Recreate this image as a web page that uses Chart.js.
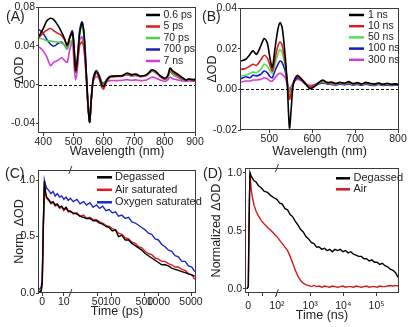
<!DOCTYPE html>
<html>
<head>
<meta charset="utf-8">
<script src="https://cdn.jsdelivr.net/npm/chart.js@4.4.1/dist/chart.umd.min.js"></script>
<style>
html, body { margin: 0; padding: 0; background: #fff; }
body { width: 417px; height: 327px; position: relative; overflow: hidden; font-family: "Liberation Sans", Arial, sans-serif; color: #222; }
canvas { position: absolute; }
.tag { position: absolute; font-size: 14px; line-height: 14px; }
</style>
</head>
<body>
<canvas id="chartA" width="205" height="162" style="left:0;top:0"></canvas>
<canvas id="chartB" width="212" height="162" style="left:205px;top:0"></canvas>
<canvas id="chartC" width="205" height="167" style="left:0;top:160px"></canvas>
<canvas id="chartD" width="212" height="167" style="left:205px;top:160px"></canvas>
<div class="tag" style="left:6px;top:9px">(A)</div>
<div class="tag" style="left:202px;top:9px">(B)</div>
<div class="tag" style="left:5px;top:166px">(C)</div>
<div class="tag" style="left:203px;top:166px">(D)</div>
<script>
// Panel A: transient spectra, ps-ns window
const wlA = [386, 400, 412, 424, 435, 448, 460, 470, 479, 487, 496, 502, 507, 513, 520, 528, 535, 542, 548, 553,
    558, 565, 575, 585, 592, 599, 608, 620, 640, 660, 676, 690, 705, 720, 740, 758, 770, 785, 800, 810,
    818, 828, 845, 860, 870, 880, 890, 900];
const odA_06ps = [0.050, 0.058, 0.066, 0.0686, 0.067, 0.0616, 0.0546, 0.0477, 0.041, 0.048, 0.054, 0.035, 0.0146, 0.0285, 0.053, 0.064, 0.049, 0.011, -0.0237, -0.039,
    -0.0167, 0.006, 0.0139, 0.0084, 0.0007, -0.002, 0.0042, 0.0084, 0.009, 0.0094, 0.012, 0.0104, 0.011, 0.009, 0.0104, 0.0153, 0.0139, 0.0094, 0.0066, 0.0094,
    0.017, 0.0139, 0.0104, 0.007, 0.0049, 0.0059, 0.0052, 0.0052];
const odA_5ps = [0.0487, 0.0536, 0.0564, 0.058, 0.0557, 0.053, 0.051, 0.0466, 0.0397, 0.0487, 0.053, 0.032, 0.0129, 0.0233, 0.0407, 0.044, 0.0355, 0.0077, -0.0237, -0.0376,
    -0.0167, 0.0049, 0.0118, 0.0059, -0.002, -0.0045, 0.0024, 0.0077, 0.0084, 0.0087, 0.011, 0.0097, 0.0104, 0.0084, 0.0097, 0.0146, 0.0132, 0.0087, 0.0059, 0.0084,
    0.0153, 0.0125, 0.009, 0.0063, 0.0049, 0.0056, 0.0049, 0.0049];
const odA_70ps = [0.048, 0.047, 0.0455, 0.045, 0.0445, 0.044, 0.043, 0.041, 0.037, 0.043, 0.046, 0.032, 0.014, 0.027, 0.052, 0.062, 0.046, 0.011, -0.022, -0.036,
    -0.016, 0.006, 0.0135, 0.009, 0.002, -0.0005, 0.005, 0.008, 0.0086, 0.0088, 0.0105, 0.0092, 0.0097, 0.0085, 0.0095, 0.014, 0.0128, 0.0085, 0.0058, 0.008,
    0.0135, 0.0108, 0.008, 0.0058, 0.005, 0.0055, 0.005, 0.005];
const odA_700ps = [0.057, 0.053, 0.0466, 0.0418, 0.0397, 0.0425, 0.044, 0.0407, 0.037, 0.049, 0.0557, 0.037, 0.0139, 0.0268, 0.0564, 0.065, 0.051, 0.011, -0.0237, -0.0383,
    -0.0167, 0.007, 0.0146, 0.009, 0.0031, 0.0007, 0.0049, 0.0084, 0.009, 0.009, 0.0104, 0.009, 0.0094, 0.0084, 0.0094, 0.0139, 0.0125, 0.0084, 0.0056, 0.0077,
    0.0132, 0.0104, 0.0077, 0.0056, 0.0049, 0.0056, 0.0052, 0.0052];
const odA_7ns = [0.039, 0.0348, 0.0285, 0.0198, 0.0233, 0.025, 0.0278, 0.025, 0.0233, 0.0355, 0.044, 0.018, 0.0049, 0.018, 0.046, 0.0494, 0.0355, 0.0042, -0.022, -0.032,
    -0.013, 0.0035, 0.0084, 0.0056, 0.0024, 0.0021, 0.0035, 0.0042, 0.0042, 0.0045, 0.0052, 0.0045, 0.0049, 0.0042, 0.0049, 0.0077, 0.007, 0.0049, 0.0035, 0.0049,
    0.0077, 0.0059, 0.0049, 0.0038, 0.0035, 0.0038, 0.0035, 0.0035];
const xTicksA = [400, 500, 600, 700, 800, 900];
const yTicksA = [-0.04, 0, 0.04, 0.08];

// Panel B: transient spectra, ns-us window
const wlB = [434, 445, 455, 462, 470, 480, 488, 495, 502, 507, 513, 520, 525, 530, 537, 542, 547, 551, 556, 565,
    575, 585, 595, 605, 615, 625, 635, 645, 655, 665, 675, 685, 695, 705, 715, 725, 735, 745, 755, 765,
    775, 785, 795, 800];
const odB_1ns = [0.0139, 0.0148, 0.0172, 0.0189, 0.0172, 0.0213, 0.025, 0.023, 0.0148, 0.0107, 0.0197, 0.0295, 0.0328, 0.0303, 0.0164, 0.0016, -0.019, -0.0098, 0.0025, 0.0066,
    0.0049, 0.0025, 0.0003, 0.0013, 0.0033, 0.0046, 0.0033, 0.0036, 0.0029, 0.0035, 0.003, 0.0038, 0.0028, 0.0033, 0.0027, 0.0034, 0.0029, 0.0026, 0.0031, 0.0025,
    0.003, 0.0024, 0.0027, 0.0023];
const odB_10ns = [0.0098, 0.0103, 0.0115, 0.0123, 0.0118, 0.0144, 0.0167, 0.0156, 0.0115, 0.009, 0.0148, 0.0213, 0.0233, 0.0216, 0.0131, 0.0033, -0.0049, -0.0016, 0.003, 0.0069,
    0.0052, 0.003, 0.0013, 0.002, 0.0033, 0.0041, 0.0033, 0.0031, 0.0027, 0.0033, 0.0029, 0.0034, 0.0028, 0.003, 0.0026, 0.0032, 0.0027, 0.0025, 0.003, 0.0024,
    0.0028, 0.0025, 0.0027, 0.0026];
const odB_50ns = [0.0066, 0.0069, 0.0079, 0.0085, 0.0082, 0.0098, 0.0123, 0.0115, 0.009, 0.0079, 0.0123, 0.0172, 0.0197, 0.018, 0.0115, 0.0041, -0.0025, -0.0003, 0.0033, 0.0066,
    0.0049, 0.0025, 0.0013, 0.002, 0.003, 0.0036, 0.003, 0.0028, 0.0025, 0.003, 0.0026, 0.0031, 0.0025, 0.0028, 0.0024, 0.0029, 0.0025, 0.0023, 0.0028, 0.0022,
    0.0026, 0.0023, 0.0025, 0.0024];
const odB_100ns = [0.0052, 0.0062, 0.0057, 0.0069, 0.0066, 0.0074, 0.009, 0.0082, 0.0062, 0.0057, 0.009, 0.0123, 0.0139, 0.0131, 0.009, 0.0033, -0.0016, 0.0003, 0.003, 0.0057,
    0.0046, 0.0025, 0.0008, 0.0016, 0.0026, 0.0031, 0.0026, 0.0024, 0.0021, 0.0026, 0.0022, 0.0027, 0.0021, 0.0024, 0.002, 0.0025, 0.0021, 0.0019, 0.0024, 0.0019,
    0.0022, 0.0019, 0.0021, 0.002];
const odB_300ns = [0.0036, 0.0041, 0.0041, 0.0046, 0.0046, 0.0049, 0.0057, 0.0052, 0.0041, 0.0041, 0.0057, 0.0074, 0.0079, 0.0074, 0.0057, 0.0025, 0.0003, 0.0013, 0.0033, 0.0049,
    0.0041, 0.0025, 0.002, 0.0023, 0.003, 0.0033, 0.0029, 0.0027, 0.0024, 0.0028, 0.0025, 0.0029, 0.0024, 0.0027, 0.0023, 0.0027, 0.0024, 0.0022, 0.0026, 0.0021,
    0.0025, 0.0022, 0.0024, 0.0023];
const xTicksB = [500, 600, 700, 800];
const yTicksB = [-0.02, 0, 0.02, 0.04];

// Panel C: normalized kinetics (ps)
const tC = [-1.5, -0.5, 0, 0.5, 1, 1.5, 2, 3, 4, 5, 6, 7, 8, 9, 10, 11, 12, 13, 15, 18,
    21, 25, 29, 34, 40, 47, 55, 64, 75, 88, 103, 120, 140, 165, 195, 230, 270, 320, 375, 440,
    520, 610, 720, 850, 1000, 1180, 1390, 1640, 1930, 2280, 2690, 3170, 3740, 4410, 5200, 6000];
const degassedC = [0.01, 0.02, 0.1, 0.6, 0.99, 0.9, 0.85, 0.83, 0.8, 0.81, 0.78, 0.79, 0.76, 0.77, 0.74, 0.76, 0.73, 0.72, 0.71, 0.7,
    0.68, 0.67, 0.66, 0.66, 0.64, 0.64, 0.62, 0.61, 0.59, 0.58, 0.55, 0.56, 0.5, 0.51, 0.47, 0.47, 0.44, 0.42, 0.4, 0.38,
    0.35, 0.33, 0.31, 0.29, 0.27, 0.25, 0.25, 0.24, 0.22, 0.21, 0.2, 0.19, 0.18, 0.17, 0.16, 0.15];
const airC = [0.0, 0.01, 0.08, 0.55, 0.95, 0.88, 0.84, 0.82, 0.79, 0.8, 0.77, 0.78, 0.75, 0.76, 0.73, 0.75, 0.72, 0.73, 0.7, 0.71,
    0.68, 0.69, 0.66, 0.67, 0.65, 0.65, 0.63, 0.62, 0.6, 0.59, 0.57, 0.56, 0.53, 0.52, 0.49, 0.48, 0.45, 0.44, 0.41, 0.4,
    0.37, 0.35, 0.34, 0.31, 0.3, 0.28, 0.28, 0.26, 0.25, 0.23, 0.23, 0.21, 0.2, 0.17, 0.16, 0.12];
const oxygenC = [0.03, 0.05, 0.12, 0.62, 1.0, 0.96, 0.93, 0.91, 0.88, 0.9, 0.86, 0.88, 0.85, 0.86, 0.83, 0.85, 0.82, 0.84, 0.81, 0.83,
    0.79, 0.81, 0.78, 0.8, 0.76, 0.78, 0.75, 0.77, 0.73, 0.74, 0.71, 0.72, 0.68, 0.69, 0.66, 0.67, 0.63, 0.62, 0.6, 0.58,
    0.56, 0.53, 0.52, 0.48, 0.47, 0.43, 0.41, 0.38, 0.37, 0.33, 0.32, 0.28, 0.28, 0.24, 0.23, 0.19];
const xTicksC = [0, 10, 50, 100, 500, 1000, 5000];
const xLabelsC = ['0', '10', '50', '100', '500', '1000', '5000'];
const yTicksC = [0, 0.5, 1.0];

// Panel D: normalized kinetics (ns)
const tD = [-5, 0, 3, 6, 10, 15, 20, 27, 35, 45, 55, 67, 80, 92, 100, 120, 145, 175, 210, 250,
    300, 360, 430, 520, 620, 750, 900, 1080, 1300, 1560, 1870, 2250, 2700, 3240, 3890, 4670, 5600, 6720, 8070, 9680,
    11600, 13900, 16700, 20100, 24100, 28900, 34700, 41600, 49900, 59900, 71900, 86300, 104000, 124000, 149000, 179000, 215000, 258000, 310000, 372000,
    440000];
const degassedD = [0.0, 0.02, 0.6, 1.0, 0.97, 0.95, 0.93, 0.92, 0.89, 0.87, 0.84, 0.83, 0.8, 0.78, 0.77, 0.74, 0.73, 0.69, 0.68, 0.64,
    0.62, 0.58, 0.55, 0.51, 0.49, 0.45, 0.43, 0.4, 0.39, 0.36, 0.36, 0.34, 0.35, 0.33, 0.34, 0.32, 0.34, 0.33, 0.34, 0.32,
    0.33, 0.31, 0.32, 0.3, 0.29, 0.28, 0.28, 0.26, 0.26, 0.24, 0.25, 0.23, 0.23, 0.21, 0.22, 0.2, 0.19, 0.17, 0.16, 0.14,
    0.1];
const airD = [0.0, 0.02, 0.7, 1.0, 0.86, 0.78, 0.72, 0.67, 0.63, 0.59, 0.56, 0.53, 0.5, 0.47, 0.45, 0.42, 0.39, 0.36, 0.33, 0.28,
    0.22, 0.16, 0.11, 0.07, 0.05, 0.035, 0.03, 0.02, 0.03, 0.02, 0.025, 0.015, 0.025, 0.02, 0.015, 0.025, 0.02, 0.015, 0.02, 0.025,
    0.015, 0.02, 0.02, 0.015, 0.025, 0.02, 0.015, 0.02, 0.025, 0.015, 0.02, 0.02, 0.015, 0.025, 0.02, 0.02, 0.025, 0.03, 0.025, 0.03,
    0.025];
const xTicksD = [0, 50, 100, 1000, 10000, 100000];
const xLabelsD = ['0', '', '10²', '10³', '10⁴', '10⁵'];
const yTicksD = [0, 0.5, 1.0];

const fontFamily = '"Liberation Sans", Arial, sans-serif';
const axisColor = '#3a3a3a';
Chart.defaults.font.family = fontFamily;
Chart.defaults.font.size = 10.5;
Chart.defaults.color = '#222';

// linear up to the break, log10 after it (like the split axes in the figure)
class BrokenScale extends Chart.LinearScale {
    mapValue(v) {
        const o = this.options;
        if (v <= o.breakAt) return v * o.linearPx;
        return o.breakAt * o.linearPx + Math.log10(v / o.breakAt) * o.decadePx;
    }
    buildTicks() {
        this.start = this.min;
        this.end = this.max;
        return this.options.tickValues.map(v => ({value: v}));
    }
    configure() {
        super.configure();
        this._u0 = this.mapValue(this.min);
        this._u1 = this.mapValue(this.max);
    }
    getPixelForValue(v) {
        if (v === null || v === undefined) return NaN;
        return this.getPixelForDecimal((this.mapValue(v) - this._u0) / (this._u1 - this._u0));
    }
}
BrokenScale.id = 'broken';
BrokenScale.defaults = {};
Chart.register(BrokenScale);

function pairs(xs, ys) {
    return xs.map((x, i) => ({x: x, y: ys[i]}));
}

function series(label, xs, ys, color, width, tension) {
    return {
        label: label,
        data: pairs(xs, ys),
        borderColor: color,
        backgroundColor: color,
        borderWidth: width,
        pointRadius: 0,
        tension: tension,
        fill: false
    };
}

const gridStyle = {drawOnChartArea: false, drawTicks: true, tickLength: 3, color: axisColor, lineWidth: 1};

const framePlugin = {
    id: 'frame',
    afterDatasetsDraw(chart) {
        const a = chart.chartArea, ctx = chart.ctx;
        ctx.save();
        ctx.strokeStyle = axisColor;
        ctx.lineWidth = 1;
        ctx.strokeRect(Math.round(a.left) - 0.5, Math.round(a.top) + 0.5,
            Math.round(a.right - a.left) + 1, Math.round(a.bottom - a.top) - 1);
        ctx.restore();
    }
};

const zeroPlugin = {
    id: 'zeroLine',
    beforeDatasetsDraw(chart) {
        const a = chart.chartArea, ctx = chart.ctx;
        const y = Math.round(chart.scales.y.getPixelForValue(0)) + 0.5;
        ctx.save();
        ctx.setLineDash([3, 2]);
        ctx.strokeStyle = '#111';
        ctx.lineWidth = 1;
        ctx.beginPath();
        ctx.moveTo(a.left, y);
        ctx.lineTo(a.right, y);
        ctx.stroke();
        ctx.restore();
    }
};

function keyPlugin(cfg) {
    return {
        id: 'insetKey',
        afterDraw(chart) {
            const ctx = chart.ctx;
            ctx.save();
            ctx.font = cfg.size + 'px ' + fontFamily;
            ctx.textBaseline = 'middle';
            ctx.fillStyle = '#222';
            chart.data.datasets.forEach((ds, i) => {
                const y = cfg.y + i * cfg.dy;
                ctx.strokeStyle = ds.borderColor;
                ctx.lineWidth = 2.5;
                ctx.beginPath();
                ctx.moveTo(cfg.x0, y);
                ctx.lineTo(cfg.x1, y);
                ctx.stroke();
                ctx.fillText(ds.label, cfg.tx, y);
            });
            ctx.restore();
        }
    };
}

function breakPlugin(at) {
    return {
        id: 'axisBreak',
        afterDraw(chart) {
            const a = chart.chartArea, ctx = chart.ctx;
            const x = chart.scales.x.getPixelForValue(at);
            ctx.save();
            ctx.strokeStyle = axisColor;
            ctx.lineWidth = 1;
            [a.top, a.bottom].forEach(y => {
                ctx.beginPath();
                ctx.moveTo(x - 1.5, y + 4);
                ctx.lineTo(x + 1.5, y - 4);
                ctx.stroke();
            });
            ctx.restore();
        }
    };
}

function baseOptions(pad) {
    return {
        responsive: false,
        maintainAspectRatio: false,
        animation: false,
        devicePixelRatio: 1,
        events: [],
        layout: {padding: pad},
        plugins: {legend: {display: false}, tooltip: {enabled: false}}
    };
}

document.addEventListener('DOMContentLoaded', function() {
    // (A)
    const optA = baseOptions({left: 8, top: 7, right: 10, bottom: 0});
    optA.scales = {
        x: {
            type: 'linear', min: 386, max: 900,
            afterBuildTicks: s => { s.ticks = xTicksA.map(v => ({value: v})); },
            afterFit: s => { s.height = 29; },
            ticks: {padding: 0, maxRotation: 0, autoSkip: false},
            title: {display: true, text: 'Wavelength (nm)', font: {size: 12.5}, padding: {top: 0, bottom: 3}},
            grid: gridStyle, border: {display: false}
        },
        y: {
            min: -0.05, max: 0.08,
            afterBuildTicks: s => { s.ticks = yTicksA.map(v => ({value: v})); },
            afterFit: s => { s.width = 31; },
            ticks: {padding: 1, callback: v => v.toFixed(2)},
            title: {display: true, text: 'ΔOD', font: {size: 12.5}, padding: {top: 4, bottom: 0}},
            grid: gridStyle, border: {display: false}
        }
    };
    new Chart(document.getElementById('chartA'), {
        type: 'line',
        data: {datasets: [
            series('0.6 ps', wlA, odA_06ps, '#000000', 1.6, 0.3),
            series('5 ps', wlA, odA_5ps, '#d81e1e', 1.6, 0.3),
            series('70 ps', wlA, odA_70ps, '#4cd24c', 1.6, 0.3),
            series('700 ps', wlA, odA_700ps, '#1f1fb4', 1.6, 0.3),
            series('7 ns', wlA, odA_7ns, '#d43cd4', 1.6, 0.3)
        ]},
        options: optA,
        plugins: [zeroPlugin, framePlugin, keyPlugin({x0: 146, x1: 160, tx: 163.5, y: 15, dy: 11.5, size: 10.5})]
    });

    // (B)
    const optB = baseOptions({left: 0, top: 8, right: 19, bottom: 0});
    optB.scales = {
        x: {
            type: 'linear', min: 434, max: 800,
            afterBuildTicks: s => { s.ticks = xTicksB.map(v => ({value: v})); },
            afterFit: s => { s.height = 32; },
            ticks: {padding: 0, maxRotation: 0, autoSkip: false},
            title: {display: true, text: 'Wavelength (nm)', font: {size: 12.5}, padding: {top: 0, bottom: 3}},
            grid: gridStyle, border: {display: false}
        },
        y: {
            min: -0.02, max: 0.04,
            afterBuildTicks: s => { s.ticks = yTicksB.map(v => ({value: v})); },
            afterFit: s => { s.width = 36; },
            ticks: {padding: 1, callback: v => v.toFixed(2)},
            title: {display: true, text: 'ΔOD', font: {size: 12.5}, padding: {top: 0, bottom: 0}},
            grid: gridStyle, border: {display: false}
        }
    };
    new Chart(document.getElementById('chartB'), {
        type: 'line',
        data: {datasets: [
            series('1 ns', wlB, odB_1ns, '#000000', 1.6, 0.3),
            series('10 ns', wlB, odB_10ns, '#d81e1e', 1.6, 0.3),
            series('50 ns', wlB, odB_50ns, '#52e052', 1.6, 0.3),
            series('100 ns', wlB, odB_100ns, '#1818c0', 1.6, 0.3),
            series('300 ns', wlB, odB_300ns, '#d43cd4', 1.6, 0.3)
        ]},
        options: optB,
        plugins: [zeroPlugin, framePlugin, keyPlugin({x0: 144, x1: 159, tx: 163, y: 15, dy: 11.2, size: 10.5})]
    });

    // (C)
    const optC = baseOptions({left: 8, top: 10, right: 10, bottom: 0});
    optC.scales = {
        x: {
            type: 'broken', min: -1.5, max: 6085,
            breakAt: 13, linearPx: 2.17, decadePx: 46.85, tickValues: xTicksC,
            afterFit: s => { s.height = 34; },
            ticks: {padding: 0, maxRotation: 0, autoSkip: false, callback: (v, i) => xLabelsC[i]},
            title: {display: true, text: 'Time (ps)', font: {size: 12.5}, padding: {top: 0, bottom: 8}},
            grid: gridStyle, border: {display: false}
        },
        y: {
            min: 0, max: 1.09,
            afterBuildTicks: s => { s.ticks = yTicksC.map(v => ({value: v})); },
            afterFit: s => { s.width = 31; },
            ticks: {padding: 1, callback: v => v.toFixed(1)},
            title: {display: true, text: 'Norm. ΔOD', font: {size: 12.5}, padding: {top: 4, bottom: 0}},
            grid: gridStyle, border: {display: false}
        }
    };
    new Chart(document.getElementById('chartC'), {
        type: 'line',
        data: {datasets: [
            series('Degassed', tC, degassedC, '#000000', 1.4, 0),
            series('Air saturated', tC, airC, '#e01c1c', 1.4, 0),
            series('Oxygen saturated', tC, oxygenC, '#1c28c8', 1.4, 0)
        ]},
        options: optC,
        plugins: [framePlugin, breakPlugin(13), keyPlugin({x0: 97, x1: 112, tx: 115, y: 17.3, dy: 12.5, size: 11})]
    });

    // (D)
    const optD = baseOptions({left: 0, top: 8, right: 19, bottom: 0});
    optD.scales = {
        x: {
            type: 'broken', min: -8, max: 440000,
            breakAt: 100, linearPx: 0.29, decadePx: 33.7, tickValues: xTicksD,
            afterFit: s => { s.height = 34; },
            ticks: {padding: 4, maxRotation: 0, autoSkip: false, callback: (v, i) => xLabelsD[i]},
            title: {display: true, text: 'Time (ns)', font: {size: 12.5}, padding: {top: 0, bottom: 4}},
            grid: gridStyle, border: {display: false}
        },
        y: {
            min: -0.035, max: 1.04,
            afterBuildTicks: s => { s.ticks = yTicksD.map(v => ({value: v})); },
            afterFit: s => { s.width = 41; },
            ticks: {padding: 1, callback: v => v.toFixed(1)},
            title: {display: true, text: 'Normalized ΔOD', font: {size: 12.5}, padding: {top: 4, bottom: 0}},
            grid: gridStyle, border: {display: false}
        }
    };
    new Chart(document.getElementById('chartD'), {
        type: 'line',
        data: {datasets: [
            series('Degassed', tD, degassedD, '#000000', 1.4, 0),
            series('Air', tD, airD, '#d81818', 1.4, 0)
        ]},
        options: optD,
        plugins: [framePlugin, breakPlugin(100), keyPlugin({x0: 131, x1: 145, tx: 148.5, y: 18.3, dy: 11, size: 11})]
    });
});
</script>
</body>
</html>
